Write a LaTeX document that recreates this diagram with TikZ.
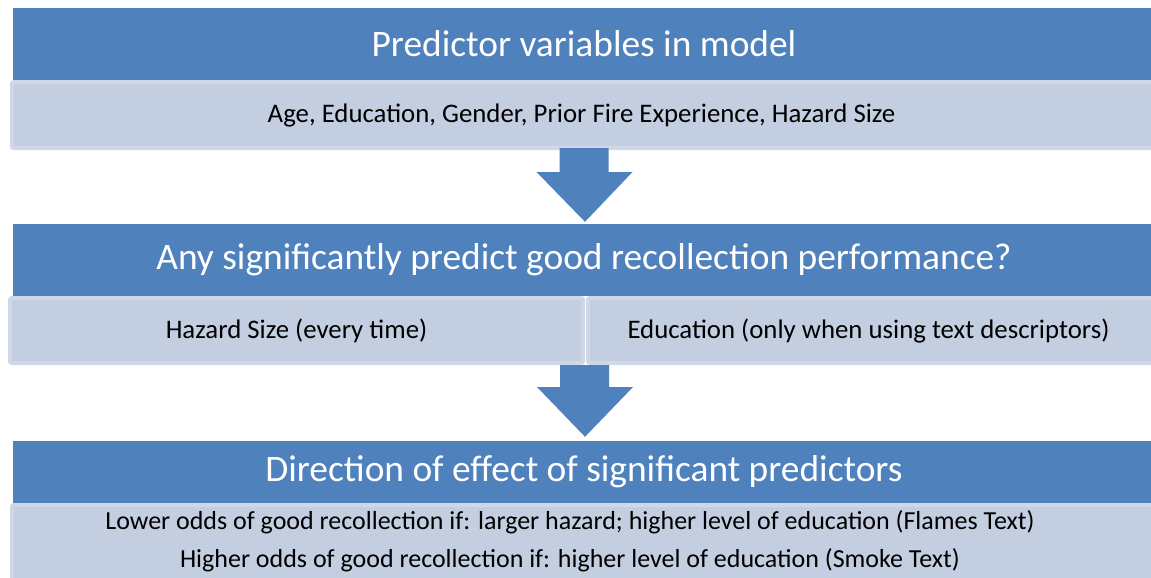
\documentclass[tikz,border=0pt]{standalone}
\usepackage{fontspec}
\setmainfont{Carlito}
\usetikzlibrary{calc}
\definecolor{hdrblue}{HTML}{4F81BD}
\definecolor{bodyfill}{HTML}{C3CEE1}
\definecolor{bodyedge}{HTML}{D0D8E8}
\tikzset{
  hdr/.style={fill=hdrblue, draw=none, inner sep=0pt, text=white, font=\fontsize{37.4}{42}\selectfont},
  bodybox/.style={fill=bodyfill, draw=bodyedge, line width=4pt, rounded corners=2pt, inner sep=0pt, text=black, font=\fontsize{26.8}{31}\selectfont},
  bodytxt/.style={text=black, inner sep=0pt, font=\fontsize{26}{30}\selectfont},
  blockarrow/.style={fill=hdrblue, draw=none}
}
\begin{document}
\begin{tikzpicture}[x=1pt,y=-1pt]
\useasboundingbox (0,0) rectangle (1151,578);
% row 1
\node[hdr, minimum width=1142pt, minimum height=72pt] (h1) at (584,44) {\raisebox{0pt}{Predictor variables in model}};
\node[bodybox, minimum width=1145pt, minimum height=66pt] (b1) at (584.5,115) {\hspace*{-6pt}Age, Education, Gender, Prior Fire Experience, Hazard Size};
% row 2
\node[hdr, minimum width=1142pt, minimum height=72pt] (h2) at (584,260) {Any significantly predict good recollection performance?};
\node[bodybox, minimum width=573pt, minimum height=65pt] (b2a) at (296.5,330.5) {Hazard Size (every time)};
\node[bodybox, minimum width=567pt, minimum height=65pt] (b2b) at (871.5,330.5) {\hspace*{-6pt}Education (only when using text descriptors)};
% row 3
\node[hdr, minimum width=1142pt, minimum height=62pt] (h3) at (584,472) {Direction of effect of significant predictors};
\node[bodybox, minimum width=1145pt, minimum height=79pt] (b3) at (584.5,544.5) {};
\node[bodytxt] (l1) at (570,522) {Lower odds of good recollection if: larger hazard; higher level of education (Flames Text)};
\node[bodytxt] (l2) at (570,560) {Higher odds of good recollection if: higher level of education (Smoke Text)};
% arrows
\fill[blockarrow] ($(b1.south)+(-25,-2)$) coordinate (a1) -- ++(49,0) -- ++(0,24) -- ++(24,0) -- ($(h2.north)+(1,-2)$) -- ($(a1)+(-23,24)$) -- ++(23,0) -- cycle;
\fill[blockarrow] ($(b2a.south east)+(-25,0)$) coordinate (a2) -- ++(49,0) -- ++(0,22) -- ++(24,0) -- ($(h3.north)+(1,-4)$) -- ($(a2)+(-23,22)$) -- ++(23,0) -- cycle;
\end{tikzpicture}
\end{document}
